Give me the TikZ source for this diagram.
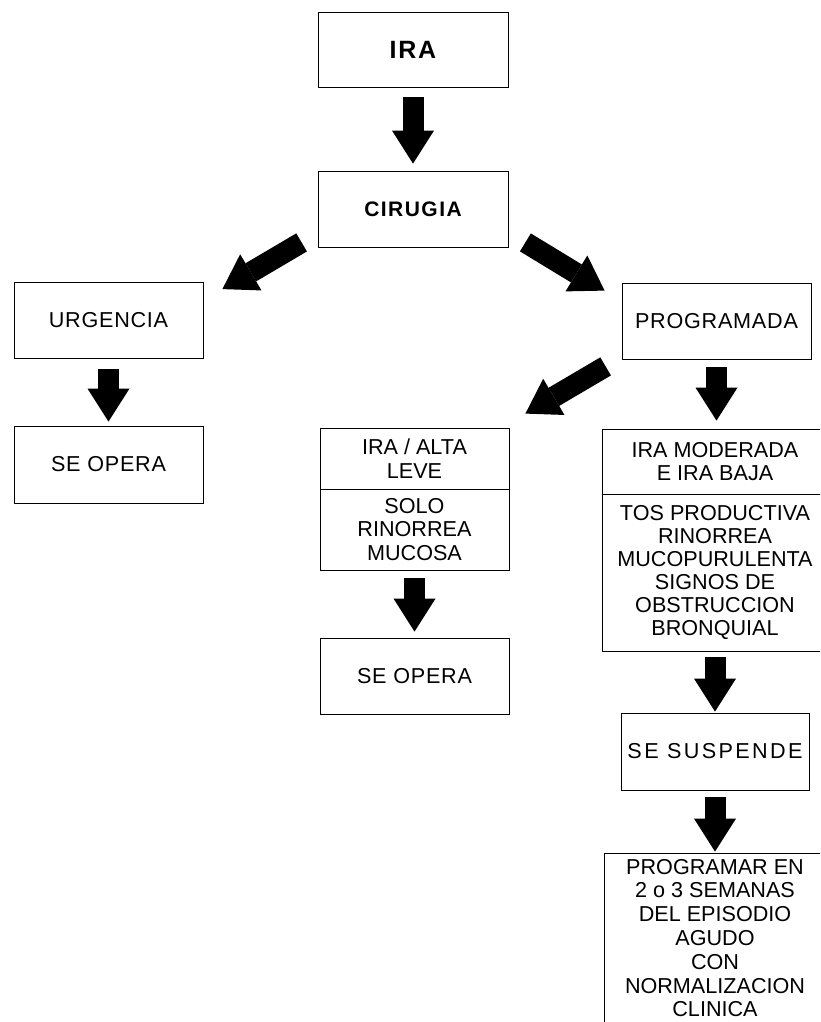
\documentclass[tikz,border=0pt]{standalone}
\usepackage{fontspec}
\setmainfont{Liberation Sans}
\newfontfamily\spacedfont[LetterSpace=3.5]{Liberation Sans}
\newfontfamily\boldfont[LetterSpace=7]{Liberation Sans}
\newfontfamily\widefont[LetterSpace=11]{Liberation Sans}
\usetikzlibrary{arrows.meta, calc}

\begin{document}
\begin{tikzpicture}[x=1pt, y=-1pt,
    box/.style={draw, line width=0.8pt, minimum width=189pt, minimum height=76pt, inner sep=0pt, align=center, font=\fontsize{21.6}{23.5}\selectfont},
    label/.style={font=\spacedfont\fontsize{21.6}{23.5}\selectfont},
    bigarrow/.style={line width=21pt, -{Triangle[width=42pt, length=33pt, line width=0pt]}}]
    \useasboundingbox (0,0) rectangle (820,1022);
    \clip (0,0) rectangle (820,1022);

    % Top
    \node[box, minimum width=190pt, minimum height=75pt, font=\boldfont\bfseries\fontsize{25}{28}\selectfont] (ira) at (413,49.5) {IRA};
    \node[box, minimum width=190pt, font=\boldfont\bfseries\fontsize{21}{24}\selectfont] (cirugia) at (413,209) {CIRUGIA};

    % Urgent branch
    \node[box, label] (urgencia) at (108.5,320.5) {URGENCIA};
    \node[box, label, minimum height=77pt] (opera1) at (108.5,464.5) {SE OPERA};

    % Planned branch
    \node[box, label] (programada) at (716.5,321) {PROGRAMADA};
    \node[box, minimum height=61pt] (leve) at (414.5,458.5) {IRA / ALTA\\LEVE};
    \node[box, minimum height=81pt] (mucosa) at (414.5,529.5) {SOLO\\RINORREA\\MUCOSA};
    \node[box, label] (opera2) at (414.5,676) {SE OPERA};
    \node[box, minimum width=226pt, minimum height=65pt] (moderada) at (715,461.5) {IRA MODERADA\\E IRA BAJA};
    \node[box, minimum width=226pt, minimum height=157pt, font=\fontsize{21.6}{23}\selectfont] (bronquial) at (715,572.5)
        {TOS PRODUCTIVA\\RINORREA\\MUCOPURULENTA\\SIGNOS DE\\OBSTRUCCION\\BRONQUIAL};
    \node[box, minimum width=188pt, minimum height=77pt, font=\widefont\fontsize{21.6}{23.5}\selectfont] (suspende) at (715,751.5) {SE SUSPENDE};
    \node[box, minimum width=222pt, minimum height=170pt, font=\fontsize{21.6}{23.8}\selectfont] (programar) at (715,938) 
        {PROGRAMAR EN\\2 o 3 SEMANAS\\DEL EPISODIO\\AGUDO\\CON\\NORMALIZACION\\CLINICA};

    % Block arrows
    \draw[bigarrow, shorten <=10pt, shorten >=7pt] (ira.south) -- (cirugia.north);
    \draw[bigarrow] ($(cirugia.south west)+(-16,-5)$) -- ($(urgencia.north east)+(19,7)$);
    \draw[bigarrow] ($(cirugia.south east)+(17,-5)$) -- ($(programada.north west)+(-17,8)$);
    \draw[bigarrow, shorten <=10pt, shorten >=4pt] (urgencia.south) -- (opera1.north);
    \draw[bigarrow] ($(programada.south west)+(-16,7)$) -- ($(leve.north east)+(16,-14)$);
    \draw[bigarrow, shorten <=8pt, shorten >=8pt] (programada.south) -- (programada.south |- moderada.north);
    \draw[bigarrow, shorten <=8pt, shorten >=6pt] (mucosa.south) -- (opera2.north);
    \draw[bigarrow, shorten <=6pt, shorten >=1pt] (bronquial.south) -- (suspende.north);
    \draw[bigarrow, shorten <=7pt, shorten >=1pt] (suspende.south) -- (programar.north);
\end{tikzpicture}
\end{document}
